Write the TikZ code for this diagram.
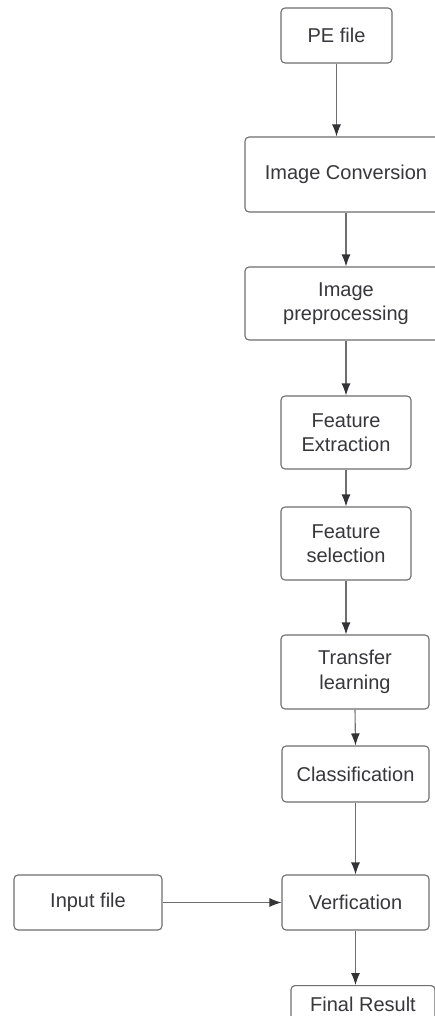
\documentclass[tikz,border=0pt]{standalone}
\usepackage{fontspec}
\setmainfont{Liberation Sans}
\usepackage{xcolor}
\definecolor{line-gray}{RGB}{110,110,110}
\definecolor{text-gray}{RGB}{55,55,60}
\definecolor{tip-gray}{RGB}{50,50,55}
\usetikzlibrary{arrows.meta,positioning}

\begin{document}
\begin{tikzpicture}[
    x=1pt, y=-1pt,
    step box/.style={
        rectangle,
        rounded corners=4pt,
        draw=line-gray,
        line width=1.1pt,
        fill=white,
        text=text-gray,
        font=\fontsize{20}{24.5}\selectfont,
        align=center,
        inner sep=0pt
    },
    arrow/.style={-{Latex[length=12pt,width=9pt]}, line-gray, line width=1.1pt,
        arrows={-{Latex[length=12pt,width=9pt,color=tip-gray]}}}
]
\useasboundingbox (0,0) rectangle (434,1016);

% PE file
\node[step box, minimum width=111pt, minimum height=55pt] (pefile) at (336.5,35.5) {PE file};

% Image conversion
\node[step box, minimum width=202pt, minimum height=75pt] (conversion) at (346,174.5) {Image Conversion};

% Image preprocessing
\node[step box, minimum width=202pt, minimum height=73pt] (preproc) at (346,303.5) {Image\\preprocessing};

% Feature extraction
\node[step box, minimum width=130pt, minimum height=73pt] (extraction) at (346,432.5) {Feature\\Extraction};

% Feature selection
\node[step box, minimum width=130pt, minimum height=73pt] (selection) at (346,543.5) {Feature\\selection};

% Transfer learning
\node[step box, minimum width=148pt, minimum height=74pt] (transfer) at (355,672) {Transfer\\learning};

% Classification
\node[step box, minimum width=147pt, minimum height=56pt] (classif) at (355.5,774) {Classification};

% Verification
\node[step box, minimum width=147pt, minimum height=55pt] (verif) at (355.5,902.5) {Verfication};

% Input file
\node[step box, minimum width=148pt, minimum height=55pt] (input) at (88,902.5) {Input file};

% Final result
\node[step box, minimum width=144pt, minimum height=55pt, anchor=north] (final) at (363,985) {};
\node[text=text-gray, font=\fontsize{20}{24.5}\selectfont, anchor=base] (finaltext) at (363,1011) {Final Result};

% Arrows
\draw[arrow] (pefile.south) -- (pefile.south |- conversion.north);
\draw[arrow] (conversion.south) -- (preproc.north);
\draw[arrow] (preproc.south) -- (extraction.north);
\draw[arrow] (extraction.south) -- (selection.north);
\draw[arrow] (selection.south) -- (selection.south |- transfer.north);
\draw[arrow] (transfer.south) -- (classif.north);
\draw[arrow] (classif.south) -- (verif.north);
\draw[arrow] (input.east) -- (verif.west);
\draw[arrow] (verif.south) -- (verif.south |- final.north);

\end{tikzpicture}
\end{document}
